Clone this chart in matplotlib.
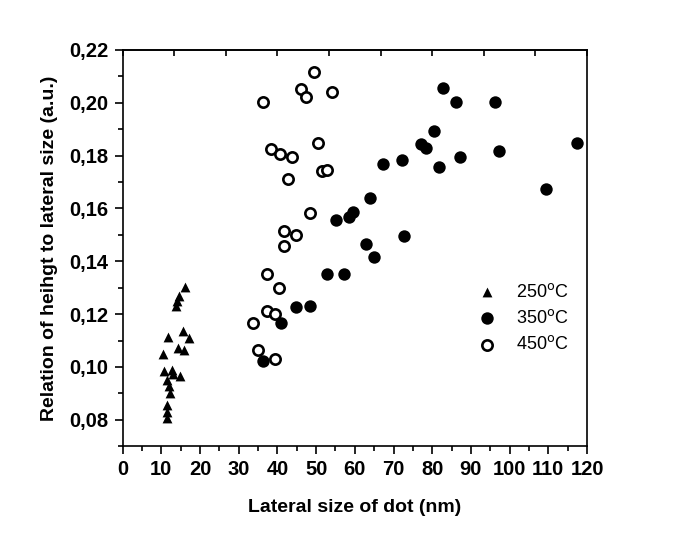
import numpy as np
import matplotlib
matplotlib.use("Agg")
import matplotlib.pyplot as plt
from matplotlib.ticker import MultipleLocator, FuncFormatter

# 250 C (triangles)
x_250 = [16.1, 14.6, 14.1, 13.8, 11.6, 15.7, 17.2, 10.4, 14.4, 15.9,
         10.7, 12.7, 14.8, 11.4, 12.0, 12.2, 11.5, 11.5, 11.4, 13.0]
y_250 = [0.1302, 0.1267, 0.1248, 0.1229, 0.1113, 0.1137, 0.1111, 0.1049, 0.1071, 0.1065,
         0.0983, 0.0989, 0.0967, 0.0951, 0.0929, 0.0901, 0.0857, 0.0831, 0.0807, 0.0975]

# 350 C (filled circles)
x_350 = [82.8, 86.1, 96.2, 80.5, 77.2, 78.3, 72.1, 87.1, 97.2, 81.7,
         109.3, 117.3, 67.2, 63.9, 59.6, 58.5, 55.1, 72.8, 62.8, 64.9,
         52.7, 57.2, 44.9, 48.3, 41.0, 36.3]
y_350 = [0.2055, 0.2002, 0.2002, 0.1891, 0.1843, 0.1830, 0.1784, 0.1796, 0.1818, 0.1755,
         0.1674, 0.1849, 0.1768, 0.1641, 0.1588, 0.1569, 0.1557, 0.1494, 0.1466, 0.1416,
         0.1351, 0.1351, 0.1225, 0.1231, 0.1168, 0.1023]

# 450 C (open circles)
x_450 = [49.4, 46.0, 47.3, 54.0, 36.2, 50.5, 38.3, 40.6, 43.8, 51.5,
         52.8, 42.8, 48.4, 41.7, 44.9, 41.7, 37.2, 40.5, 37.2, 39.5,
         33.8, 35.0, 39.5]
y_450 = [0.2116, 0.2051, 0.2023, 0.2042, 0.2002, 0.1846, 0.1825, 0.1807, 0.1796, 0.1740,
         0.1746, 0.1712, 0.1582, 0.1513, 0.1500, 0.1456, 0.1350, 0.1298, 0.1213, 0.1200,
         0.1166, 0.1065, 0.1030]

plt.rcParams['font.family'] = ['Liberation Sans', 'DejaVu Sans']

fig = plt.figure(figsize=(6.85, 5.53), dpi=100)
ax = fig.add_axes([0.179, 0.193, 0.678, 0.717])

ax.scatter(x_250, y_250, marker='^', s=50, color='black', linewidths=0, label='250$^\\mathrm{o}$C', zorder=3)
ax.scatter(x_350, y_350, marker='o', s=80, color='black', linewidths=0, label='350$^\\mathrm{o}$C', zorder=3)
ax.scatter(x_450, y_450, marker='o', s=55, facecolors='white', edgecolors='black', linewidths=1.9,
           label='450$^\\mathrm{o}$C', zorder=3)

ax.set_xlim(0, 120)
ax.set_ylim(0.07, 0.22)

ax.xaxis.set_major_locator(MultipleLocator(10))
ax.xaxis.set_minor_locator(MultipleLocator(5))
ax.yaxis.set_major_locator(MultipleLocator(0.02))
ax.yaxis.set_minor_locator(MultipleLocator(0.01))
ax.yaxis.set_major_formatter(FuncFormatter(lambda v, p: f"{v:.2f}".replace('.', ',')))

ax.tick_params(which='major', direction='out', length=6, width=1.2, labelsize=14.5, pad=4,
               top=False, right=False)
ax.tick_params(which='minor', direction='out', length=3.5, width=1.2, top=False, right=False)
for lab in ax.get_xticklabels() + ax.get_yticklabels():
    lab.set_fontweight('bold')

for sp in ax.spines.values():
    sp.set_linewidth(1.2)

# top axis: ticks only, pointing inwards
top = ax.secondary_xaxis('top')
top.set_xticks(np.linspace(0, 120, 10))
top.tick_params(direction='in', length=4, width=1.2, labeltop=False)
top.spines['top'].set_linewidth(1.2)

ax.set_xlabel('Lateral size of dot (nm)', fontsize=14, fontweight='bold', labelpad=14)
ax.set_ylabel('Relation of heihgt to lateral size (a.u.)', fontsize=14, fontweight='bold', labelpad=8)

leg = ax.legend(loc='upper left', bbox_to_anchor=(0.731, 0.43), frameon=False, fontsize=13,
                handletextpad=0.6, labelspacing=0.45, borderaxespad=0)

plt.savefig('out.png', dpi=100)
plt.close()
